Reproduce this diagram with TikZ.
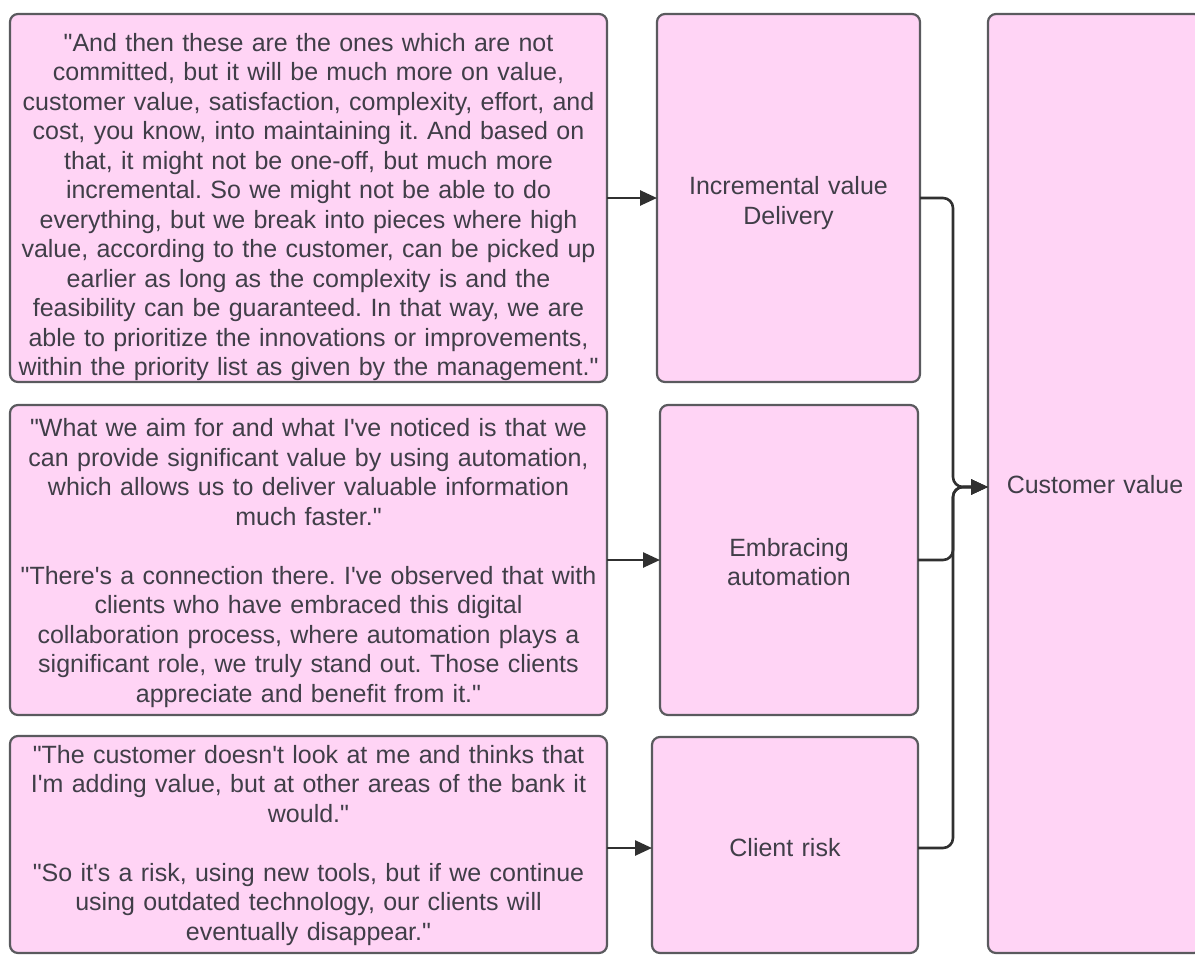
\documentclass[tikz,border=0pt]{standalone}
\usepackage{fontspec}
\setmainfont{Liberation Sans}[Ligatures=TeXOff]
\usetikzlibrary{arrows.meta}
\definecolor{boxfill}{RGB}{255,212,245}
\definecolor{boxline}{RGB}{90,90,94}
\definecolor{ink}{RGB}{64,62,72}
\definecolor{wire}{RGB}{48,48,48}
\tikzset{
  card/.style={draw=boxline, line width=2.2pt, fill=boxfill, rounded corners=8pt,
    inner sep=0pt, outer sep=0pt},
  words/.style={inner sep=0pt, align=center, text=ink,
    font=\frenchspacing\fontsize{25}{29.5}\selectfont},
  conn/.style={draw=wire, line width=2.6pt, rounded corners=10pt,
    -{Triangle[length=17pt,width=15pt]}},
}
\begin{document}
\begin{tikzpicture}[x=1pt,y=-1pt]
\useasboundingbox (0,0) rectangle (1195,954);
\clip (0,0) rectangle (1195,954);

% quotation boxes
\node[card, minimum width=597, minimum height=368] (q1) at (308.5,198) {};
\node[card, minimum width=597, minimum height=310] (q2) at (308.5,560) {};
\node[card, minimum width=597, minimum height=217] (q3) at (308.5,844.5) {};

% theme boxes
\node[card, minimum width=263, minimum height=368] (m1) at (788.5,198) {};
\node[card, minimum width=258, minimum height=310] (m2) at (789,560) {};
\node[card, minimum width=266, minimum height=216] (m3) at (785,845) {};

% result box
\node[card, minimum width=214, minimum height=939] (cv) at (1095,483.5) {};

% texts
\node[words, text width=590] (q1t) at ([yshift=-9pt]q1.center) {%
"And then these are the ones which are not\\
committed, but it will be much more on value,\\
customer value, satisfaction, complexity, effort, and\\
cost, you know, into maintaining it. And based on\\
that, it might not be one-off, but much more\\
incremental. So we might not be able to do\\
everything, but we break into pieces where high\\
value, according to the customer, can be picked up\\
earlier as long as the complexity is and the\\
feasibility can be guaranteed. In that way, we are\\
able to prioritize the innovations or improvements,\\
within the priority list as given by the management."};

\node[words, text width=590] (q2t) at ([yshift=-3pt]q2.center) {%
"What we aim for and what I've noticed is that we\\
can provide significant value by using automation,\\
which allows us to deliver valuable information\\
much faster."\\[29.5pt]
"There's a connection there. I've observed that with\\
clients who have embraced this digital\\
collaboration process, where automation plays a\\
significant role, we truly stand out. Those clients\\
appreciate and benefit from it."};

\node[words, text width=590] (q3t) at ([yshift=-1pt]q3.center) {%
"The customer doesn't look at me and thinks that\\
I'm adding value, but at other areas of the bank it\\
would."\\[29.5pt]
"So it's a risk, using new tools, but if we continue\\
using outdated technology, our clients will\\
eventually disappear."};

\node[words, text width=250] (m1t) at ([yshift=-5pt]m1.center) {Incremental value\\Delivery};
\node[words, text width=250] (m2t) at ([yshift=-2pt]m2.center) {Embracing\\automation};
\node[words, text width=250] (m3t) at ([yshift=-3pt]m3.center) {Client risk};
\node[words, text width=200] (cvt) at ([yshift=-1pt]cv.center) {Customer value};

% quotes feed their themes
\draw[conn] (q1.east) -- (m1.west);
\draw[conn] (q2.east) -- (m2.west);
\draw[conn] (q3.east |- 0,848) -- (m3.west |- 0,848);

% themes merge into the result
\coordinate (bus) at (953,487);
\draw[conn] (m1.east) -- (m1.east -| bus) -- (bus) -- (cv.west |- bus);
\draw[conn] (m2.east) -- (m2.east -| bus) -- (bus) -- (cv.west |- bus);
\draw[conn] (m3.east |- 0,848) -- (bus |- 0,848) -- (bus) -- (cv.west |- bus);
\end{tikzpicture}
\end{document}
